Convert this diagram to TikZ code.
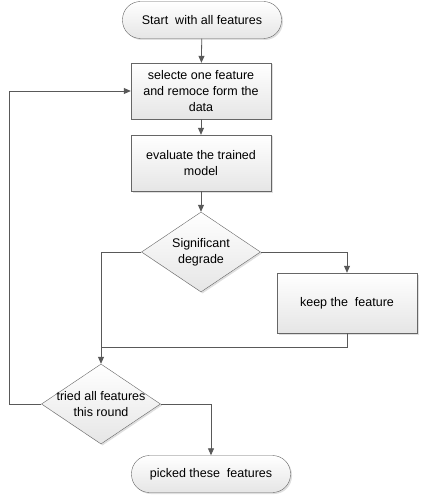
\documentclass[tikz,border=0pt]{standalone}
\usepackage{fontspec}
\setmainfont{Liberation Sans}
\usepackage{tikz}
\usetikzlibrary{shapes.geometric,arrows.meta,shadows}

\begin{document}
\begin{tikzpicture}
[x=1pt, y=-1pt,
font=\fontsize{12.5}{16}\selectfont,
flow/.style={draw=black!65, line width=0.8pt, -{Triangle[length=7pt,width=6pt]}},
plain/.style={draw=black!65, line width=0.8pt},
terminal/.style={draw=black!60, rounded corners=18pt, minimum width=159pt, minimum height=37pt, top color=white, bottom color=black!10, drop shadow={shadow xshift=1.5pt, shadow yshift=-1.5pt, opacity=0.25}},
process/.style={draw=black!60, align=center, minimum width=140pt, minimum height=56pt, top color=white, bottom color=black!10, drop shadow={shadow xshift=1.5pt, shadow yshift=-1.5pt, opacity=0.25}},
decision/.style={draw=black!60, diamond, inner sep=0pt, minimum width=119pt, minimum height=80pt, top color=white, bottom color=black!10, drop shadow={shadow xshift=1.5pt, shadow yshift=-1.5pt, opacity=0.25}}]
\useasboundingbox (0,0) rectangle (421,497);
\node[terminal] (start) at (202,20) {Start\ \ with all features};
\node[process] (select) at (201,91) {selecte one feature\\and remoce form the\\data};
\node[process] (evaluate) at (201,163) {evaluate the trained\\model};
\node[decision, label={[align=center]center:Significant\\degrade}] (degrade) at (201,252) {};
\node[process, minimum height=60pt] (keep) at (347,303) {keep the\ \ feature};
\node[decision, label={[align=center]center:tried all features\\this round}] (tried) at (101,404) {};
\node[terminal] (picked) at (211,474) {picked these\ \ features};
\coordinate (merge) at (101,347);
\coordinate (back) at (9,404);
\draw[flow] (start) -- (select);
\draw[flow] (select) -- (evaluate);
\draw[flow] (evaluate) -- (degrade);
\draw[flow] (degrade.east) -| (keep.north);
\draw[flow] (degrade.west) -| (tried.north);
\draw[plain] (keep.south) |- (merge);
\draw[flow] (tried.west) -- (back) |- (select.west);
\draw[flow] (tried.east) -| (picked.north);
\end{tikzpicture}
\end{document}
